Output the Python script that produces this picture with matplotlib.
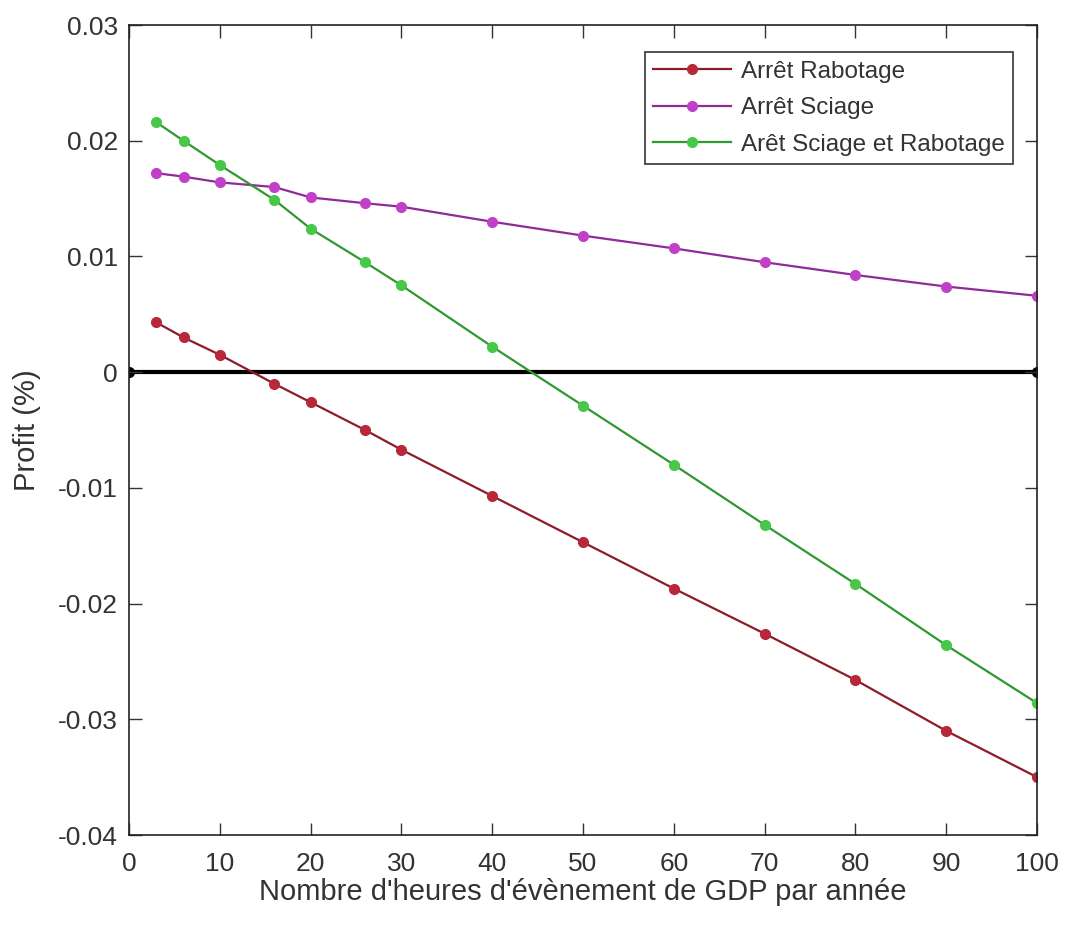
import matplotlib
matplotlib.use("Agg")
import matplotlib.pyplot as plt

plt.rcParams['font.family'] = ['Liberation Sans', 'DejaVu Sans']

heures = [3, 6, 10, 16, 20, 26, 30, 40, 50, 60, 70, 80, 90, 100]
rabotage = [0.0043, 0.0030, 0.0015, -0.0010, -0.0026, -0.0050, -0.0067,
            -0.0107, -0.0147, -0.0187, -0.0226, -0.0266, -0.0310, -0.0350]
sciage = [0.0172, 0.0169, 0.0164, 0.0160, 0.0151, 0.0146, 0.0143,
          0.0130, 0.0118, 0.0107, 0.0095, 0.0084, 0.0074, 0.0066]
sciage_rabotage = [0.0216, 0.0200, 0.0179, 0.0149, 0.0124, 0.0095, 0.0075,
                   0.0022, -0.0029, -0.0080, -0.0132, -0.0183, -0.0236, -0.0286]
labels = ['Arrêt Rabotage', 'Arrêt Sciage', 'Arêt Sciage et Rabotage']

fig = plt.figure(figsize=(10.7, 9.38), dpi=100)
ax = fig.add_axes([0.1206, 0.1098, 0.8486, 0.8635])

ax.plot([0, 100], [0, 0], color='black', lw=3, marker='o', ms=7, zorder=1)
ax.plot(heures, rabotage, color='#8e1c28', lw=1.6, marker='o', ms=7,
        markerfacecolor='#b8283a', markeredgecolor='#b8283a', label=labels[0])
ax.plot(heures, sciage, color='#902a98', lw=1.6, marker='o', ms=7,
        markerfacecolor='#c040c8', markeredgecolor='#c040c8', label=labels[1])
ax.plot(heures, sciage_rabotage, color='#309830', lw=1.6, marker='o', ms=7,
        markerfacecolor='#48c848', markeredgecolor='#48c848', label=labels[2])

ax.set_xlim(0, 100)
ax.set_ylim(-0.04, 0.03)
ax.set_xticks(range(0, 101, 10))
ax.set_yticks([-0.04, -0.03, -0.02, -0.01, 0, 0.01, 0.02, 0.03])
ax.set_yticklabels(['-0.04', '-0.03', '-0.02', '-0.01', '0', '0.01', '0.02', '0.03'])
ax.tick_params(direction='in', top=True, right=True, length=9, labelsize=19,
               colors='#333333', width=1)
ax.tick_params(axis='x', pad=12)
ax.tick_params(axis='y', pad=8)
for s in ax.spines.values():
    s.set_linewidth(1.2)
    s.set_color('#222222')
ax.set_xlabel("Nombre d'heures d'évènement de GDP par année", fontsize=21,
              color='#333333', labelpad=2)
ax.set_ylabel("Profit (%)", fontsize=21, color='#333333', labelpad=12)

leg = ax.legend(loc='upper right', bbox_to_anchor=(0.9736, 0.9667),
                borderaxespad=0, fontsize=17.5, frameon=True, fancybox=False,
                edgecolor='black', handlelength=3.2, handletextpad=0.4,
                borderpad=0.35, labelspacing=0.6)
leg.get_frame().set_linewidth(1.2)
for t in leg.get_texts():
    t.set_color('#333333')

fig.savefig('out.png', dpi=100)
